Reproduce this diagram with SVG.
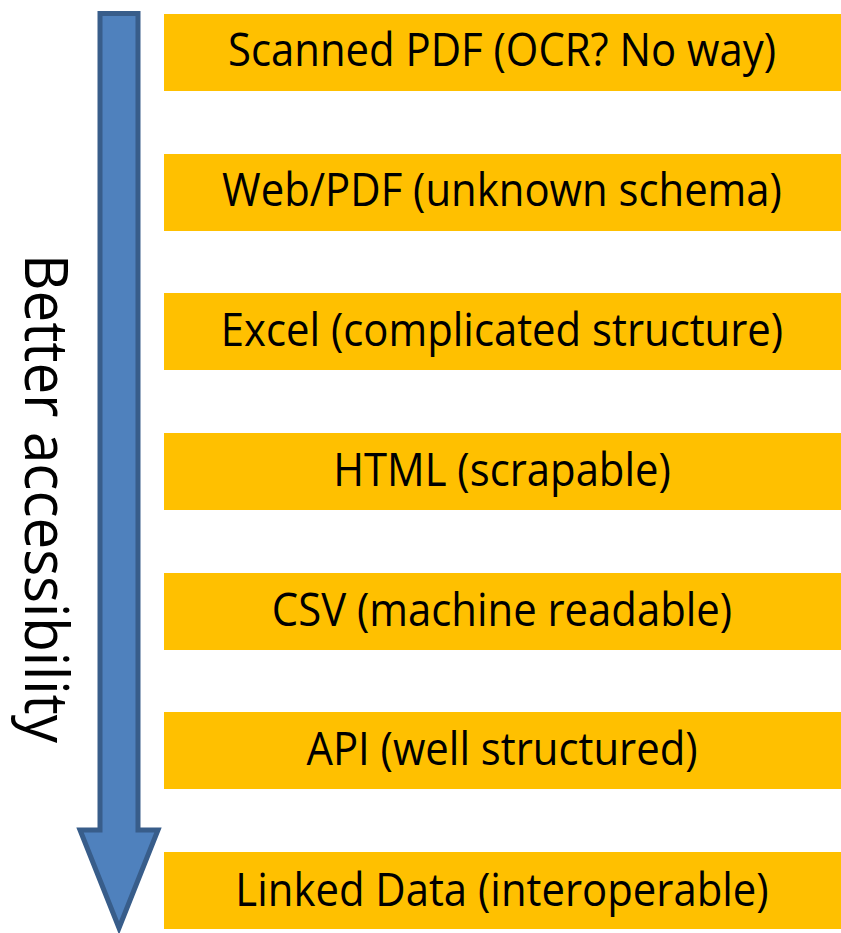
<svg xmlns="http://www.w3.org/2000/svg" width="841" height="933" viewBox="0 0 841 933">
<style>
.box{fill:#FFC000}
.lbl{font-family:"Open Sans","Liberation Sans",sans-serif;font-size:45px;fill:#000;text-anchor:middle}
.side{font-family:"Open Sans","Liberation Sans",sans-serif;font-size:60px;fill:#000;text-anchor:middle}
</style>
<rect width="841" height="933" fill="#fff"/>
<g id="arrow">
<path d="M100,13.5 H138 V830 H158 L119,928 L80,830 H100 Z" fill="#4F81BD" stroke="#385D8A" stroke-width="5" stroke-linejoin="miter"/>
</g>
<g id="side-label">
<text class="side" transform="translate(25,498.5) rotate(90)" textLength="489" lengthAdjust="spacingAndGlyphs">Better  accessibility</text>
</g>
<g id="n1"><rect class="box" x="164" y="14" width="677" height="77"/><text class="lbl" transform="translate(502,66) scale(0.93,1)">Scanned PDF (OCR? No way)</text></g>
<g id="n2"><rect class="box" x="164" y="154" width="677" height="77"/><text class="lbl" transform="translate(502,206) scale(0.93,1)">Web/PDF (unknown schema)</text></g>
<g id="n3"><rect class="box" x="164" y="293" width="677" height="77"/><text class="lbl" transform="translate(502,346) scale(0.93,1)">Excel (complicated structure)</text></g>
<g id="n4"><rect class="box" x="164" y="433" width="677" height="77"/><text class="lbl" transform="translate(502,486) scale(0.93,1)">HTML (scrapable)</text></g>
<g id="n5"><rect class="box" x="164" y="573" width="677" height="77"/><text class="lbl" transform="translate(502,626) scale(0.93,1)">CSV (machine readable)</text></g>
<g id="n6"><rect class="box" x="164" y="712" width="677" height="77"/><text class="lbl" transform="translate(502,765) scale(0.93,1)">API (well structured)</text></g>
<g id="n7"><rect class="box" x="164" y="852" width="677" height="77"/><text class="lbl" transform="translate(502,906) scale(0.93,1)">Linked Data (interoperable)</text></g>
</svg>
